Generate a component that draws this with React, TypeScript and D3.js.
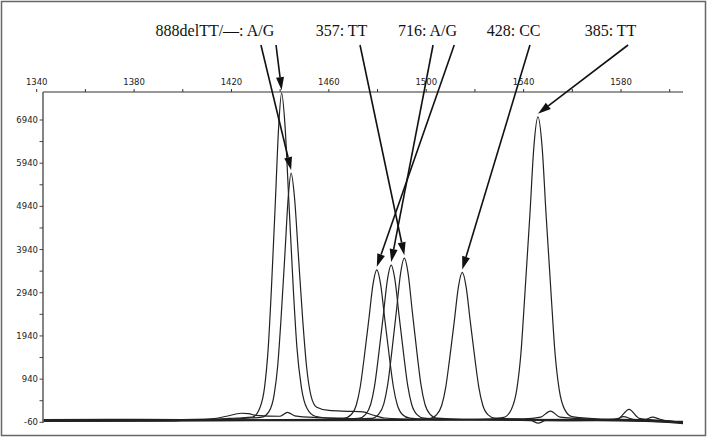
import React from "react";
import * as d3 from "d3";

// fragment sizes (bp) and signal
const trace1: [number, number][] = [[1342.7,-10],[1360,0],[1380,-5],[1400,5],[1415,15],[1422,40],[1428.6,60],[1431.6,265],[1433.6,756],[1435.1,1663],[1436.4,3024],[1438.1,5141],[1439.4,6804],[1440.6,7560],[1442,6804],[1443.5,5141],[1445.4,3024],[1446.9,1663],[1448.7,756],[1451,265],[1454.4,80],[1462,30],[1475,15],[1500,0],[1530,-10],[1543,-20],[1546,-80],[1549,-20],[1570,-20],[1590,-40],[1605.5,-70]];
const trace2: [number, number][] = [[1342.7,0],[1370,10],[1400,0],[1420,20],[1428,40],[1432.5,60],[1435.5,200],[1437.5,571],[1439,1256],[1440.3,2284],[1442,3883],[1443.3,5139],[1444.5,5710],[1445.9,5139],[1447.4,3883],[1449.3,2284],[1450.8,1256],[1452.6,571],[1455,290],[1460,215],[1468,195],[1474,180],[1478,110],[1483,40],[1495,10],[1520,0],[1560,-10],[1575,0],[1579,30],[1583.3,240],[1587.5,30],[1595,-20],[1605.5,-50]];
const trace3: [number, number][] = [[1342.7,-20],[1380,-10],[1405,0],[1412,20],[1418,80],[1424,150],[1427,140],[1430,100],[1440,80],[1443,170],[1446,90],[1455,50],[1466.2,35],[1469.2,121],[1471.3,347],[1472.9,763],[1474.4,1388],[1476.5,2360],[1478.1,3123],[1479.7,3470],[1481.3,3123],[1482.9,2360],[1485,1388],[1486.5,763],[1488.1,347],[1490.2,121],[1493.2,35],[1500,10],[1530,0],[1560,-20],[1580,-10],[1600,-40],[1605.5,-60]];
const trace4: [number, number][] = [[1342.7,-30],[1380,-20],[1420,-10],[1440,0],[1460,10],[1472.1,29],[1475.1,125],[1477.2,358],[1478.8,788],[1480.3,1432],[1482.4,2434],[1484,3222],[1485.6,3580],[1487.2,3222],[1488.8,2434],[1490.9,1432],[1492.4,788],[1494,358],[1496.1,125],[1499.1,35],[1510,10],[1540,0],[1560,10],[1575,-10],[1590,10],[1593,60],[1596,10],[1605.5,-80]];
const trace5: [number, number][] = [[1342.7,-10],[1380,0],[1420,0],[1440,-10],[1460,0],[1477.5,30],[1480.5,131],[1482.6,374],[1484.2,823],[1485.7,1496],[1487.8,2543],[1489.4,3366],[1491,3740],[1492.6,3366],[1494.2,2543],[1496.3,1496],[1497.8,823],[1499.4,374],[1501.5,131],[1504.5,35],[1515,10],[1540,20],[1547,60],[1551,200],[1555,60],[1570,10],[1590,-30],[1605.5,-90]];
const trace6: [number, number][] = [[1342.7,-20],[1400,-20],[1440,-10],[1470,-5],[1490,0],[1501.3,27],[1504.3,119],[1506.4,341],[1508,750],[1509.5,1364],[1511.6,2319],[1513.2,3069],[1514.8,3410],[1516.4,3069],[1518,2319],[1520.1,1364],[1521.6,750],[1523.2,341],[1525.3,119],[1528.3,35],[1540,10],[1560,0],[1578,10],[1581,70],[1585,10],[1605.5,-40]];
const trace7: [number, number][] = [[1342.7,-40],[1400,-30],[1450,-20],[1500,-10],[1522,0],[1531.9,56],[1535,245],[1537.2,702],[1538.9,1543],[1540.4,2806],[1542.6,4770],[1544.2,6313],[1545.9,7014],[1547.6,6313],[1549.2,4770],[1551.4,2806],[1552.9,1543],[1554.6,702],[1556.8,245],[1559.9,70],[1570,20],[1590,0],[1605.5,-60]];

const traces = [trace1, trace2, trace3, trace4, trace5, trace6, trace7];

const xLabelTicks = [1340, 1380, 1420, 1460, 1500, 1540, 1580];
const xMinorTicks = [1360, 1400, 1440, 1480, 1520, 1560, 1600];
const yLabelTicks = [-60, 940, 1940, 2940, 3940, 4940, 5940, 6940];
const yMinorTicks = [440, 1440, 2440, 3440, 4440, 5440, 6440];

// genotype labels; each arrow points at the peak of one trace
const annotations = [
  { label: "888delTT/—: A/G", textX: 1413.2, arrows: [{ fromX: 1432.1, trace: 1 }, { fromX: 1438.3, trace: 0 }] },
  { label: "357: TT", textX: 1465.2, arrows: [{ fromX: 1472.8, trace: 4 }] },
  { label: "716: A/G", textX: 1500.5, arrows: [{ fromX: 1502.8, trace: 3 }, { fromX: 1511.5, trace: 2 }] },
  { label: "428: CC", textX: 1535.9, arrows: [{ fromX: 1542.6, trace: 5 }] },
  { label: "385: TT", textX: 1575.7, arrows: [{ fromX: 1582.9, trace: 6 }] },
];

const W = 708;
const H = 439;
const plotLeft = 43;
const plotRight = 683;
const plotTop = 92;
const plotBottom = 423;
const arrowStartY = 45;

const App: React.FC = () => {
  const x = d3.scaleLinear().domain([1340, 1600]).range([36.7, 669.7]);
  const y = d3.scaleLinear().domain([-60, 6940]).range([422.3, 120]);

  const line = d3
    .line<[number, number]>()
    .x((d) => x(d[0]))
    .y((d) => y(d[1]))
    .curve(d3.curveMonotoneX);

  const axisFont = "'DejaVu Sans', Verdana, sans-serif";

  const arrowEls: React.ReactNode[] = [];
  annotations.forEach((a, i) => {
    a.arrows.forEach((ar, j) => {
      const peak = d3.greatest(traces[ar.trace], (d) => d[1])!;
      const sx = x(ar.fromX);
      const sy = arrowStartY;
      const tx = x(peak[0]);
      const ty = y(peak[1]) - 3;
      const dx = tx - sx;
      const dy = ty - sy;
      const len = Math.hypot(dx, dy);
      const ux = dx / len;
      const uy = dy / len;
      const headLen = 13;
      const headW = 4;
      const bx = tx - ux * headLen;
      const by = ty - uy * headLen;
      const pts = [
        [tx, ty],
        [bx - uy * headW, by + ux * headW],
        [bx + uy * headW, by - ux * headW],
      ]
        .map((p) => p.join(","))
        .join(" ");
      arrowEls.push(
        <g key={`a${i}-${j}`}>
          <line x1={sx} y1={sy} x2={bx} y2={by} stroke="#111" strokeWidth={1.6} />
          <polygon points={pts} fill="#111" />
        </g>
      );
    });
  });

  return (
    <svg
      width={W}
      height={H}
      style={{ position: "absolute", left: 0, top: 0, background: "#fff" }}
    >
      <rect x={0} y={0} width={W} height={H} fill="#fff" />
      <rect x={1.5} y={1.5} width={704} height={434} fill="none" stroke="#666" strokeWidth={1.5} />

      <defs>
        <clipPath id="plotClip">
          <rect x={plotLeft} y={plotTop - 10} width={plotRight - plotLeft} height={plotBottom - plotTop + 14} />
        </clipPath>
      </defs>

      {/* traces */}
      <g clipPath="url(#plotClip)">
        {traces.map((t, i) => (
          <path key={i} d={line(t) ?? ""} fill="none" stroke="#222" strokeWidth={1.2} />
        ))}
      </g>

      {/* top x axis */}
      <line x1={plotLeft} y1={plotTop} x2={plotRight} y2={plotTop} stroke="#333" strokeWidth={1} />
      {xLabelTicks.concat(xMinorTicks).map((v) => (
        <line key={`xt${v}`} x1={x(v)} x2={x(v)} y1={plotTop - 3} y2={plotTop} stroke="#333" strokeWidth={1} />
      ))}
      {xLabelTicks.map((v) => (
        <text
          key={`xl${v}`}
          x={x(v)}
          y={plotTop - 7}
          textAnchor="middle"
          fontFamily={axisFont}
          fontSize={8.5}
          fill="#222"
        >
          {v}
        </text>
      ))}

      {/* left y axis */}
      <line x1={plotLeft} y1={plotTop} x2={plotLeft} y2={plotBottom} stroke="#666" strokeWidth={1.6} />
      {yLabelTicks.concat(yMinorTicks).map((v) => (
        <line key={`yt${v}`} x1={plotLeft - 3.5} x2={plotLeft} y1={y(v)} y2={y(v)} stroke="#444" strokeWidth={1} />
      ))}
      {yLabelTicks.map((v) => (
        <text
          key={`yl${v}`}
          x={plotLeft - 5}
          y={y(v)}
          dy="0.35em"
          textAnchor="end"
          fontFamily={axisFont}
          fontSize={8.5}
          fill="#222"
        >
          {v}
        </text>
      ))}

      {/* annotations */}
      {arrowEls}
      {annotations.map((a) => (
        <text
          key={a.label}
          x={x(a.textX)}
          y={36}
          textAnchor="middle"
          fontFamily="'Liberation Serif', 'Times New Roman', serif"
          fontSize={16}
          fill="#111"
        >
          {a.label}
        </text>
      ))}
    </svg>
  );
};

export default App;
